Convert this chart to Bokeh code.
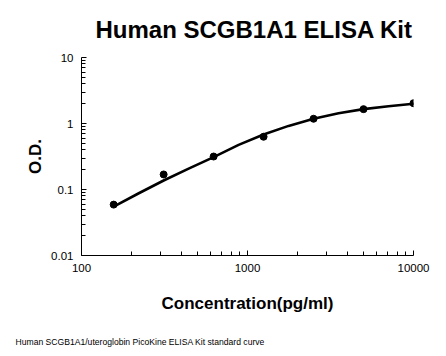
from bokeh.plotting import figure
from bokeh.models import Range1d, FixedTicker, Title
from bokeh.layouts import column
from bokeh.embed import file_html
from bokeh.resources import INLINE

# Standard points (pg/ml, O.D.)
conc = [156.25, 312.5, 625, 1250, 2500, 5000, 10000]
od = [0.059, 0.169, 0.316, 0.63, 1.18, 1.65, 2.03]

# Fitted curve
curve_conc = [156.25, 220, 312.5, 442, 625, 884, 1250, 1768, 2500, 3536, 5000, 7071, 10000]
curve_od = [0.055, 0.087, 0.137, 0.207, 0.31, 0.475, 0.68, 0.92, 1.18, 1.43, 1.65, 1.83, 1.99]

x_major = [100, 1000, 10000]
y_major = [0.01, 0.1, 1, 10]
x_labels = {100: "100", 1000: "1000", 10000: "10000"}
y_labels = {0.01: "0.01", 0.1: "0.1", 1: "1", 10: "10"}

title_text = "Human SCGB1A1 ELISA Kit"
xlabel = "Concentration(pg/ml)"
ylabel = "O.D."
footnote = "Human SCGB1A1/uteroglobin PicoKine ELISA Kit standard curve"

FONT = "Liberation Sans"
W = 446
H_MAIN, H_NOTE = 330, 26

p = figure(width=W, height=H_MAIN, x_axis_type="log", y_axis_type="log",
           x_range=Range1d(100, 10000), y_range=Range1d(0.01, 10),
           output_backend="svg", toolbar_location=None,
           min_border_left=81, min_border_right=33, min_border_top=57, min_border_bottom=75)
p.outline_line_color = None
p.xgrid.visible = False
p.ygrid.visible = False
p.background_fill_color = "white"
p.border_fill_color = "white"

def minors(majors):
    out = []
    for m in majors[:-1]:
        out += [m * k for k in range(2, 10)]
    return out

p.xaxis.ticker = FixedTicker(ticks=x_major, minor_ticks=minors(x_major))
p.yaxis.ticker = FixedTicker(ticks=y_major, minor_ticks=minors(y_major))
p.xaxis.major_label_overrides = x_labels
p.yaxis.major_label_overrides = y_labels

for ax in (p.xaxis, p.yaxis):
    ax.axis_line_color = "black"
    ax.major_tick_line_color = "black"
    ax.minor_tick_line_color = "black"
    ax.major_tick_in = 5
    ax.major_tick_out = 0
    ax.minor_tick_in = 4
    ax.minor_tick_out = 0
    ax.major_label_text_font = FONT
    ax.major_label_text_font_size = "11.5px"
    ax.major_label_text_color = "black"
    ax.axis_label_text_font = FONT
    ax.axis_label_text_font_size = "17px"
    ax.axis_label_text_font_style = "bold"
    ax.axis_label_text_color = "black"
    ax.major_label_standoff = 8

p.xaxis.axis_label = xlabel
p.yaxis.axis_label = ylabel
p.xaxis.axis_label_standoff = 19
p.yaxis.axis_label_standoff = 3

p.line(curve_conc, curve_od, line_color="black", line_width=2.6, line_join="round", line_cap="round")
p.scatter(conc, od, size=7, fill_color="black", line_color="black")

p.add_layout(Title(text=title_text, align="left", offset=14, vertical_align="top",
                   text_font=FONT, text_font_size="24px",
                   text_font_style="bold", text_color="black", standoff=25), "above")

# footnote strip below the chart (its frame is aligned with the chart's frame)
q = figure(width=W, height=H_NOTE, x_range=Range1d(0, 1), y_range=Range1d(0, 1),
           output_backend="svg", toolbar_location=None,
           x_axis_location=None, y_axis_location=None, min_border=0)
q.outline_line_color = None
q.xgrid.visible = False
q.ygrid.visible = False
q.background_fill_color = "white"
q.border_fill_color = "white"
q.title.text = footnote
q.title.align = "left"
q.title.offset = -66
q.title.vertical_align = "bottom"
q.title.standoff = 8
q.title.text_font = FONT
q.title.text_font_size = "8.6px"
q.title.text_font_style = "normal"
q.title.text_color = "black"

open("out.html", "w").write(file_html(column(p, q, spacing=0), INLINE))
